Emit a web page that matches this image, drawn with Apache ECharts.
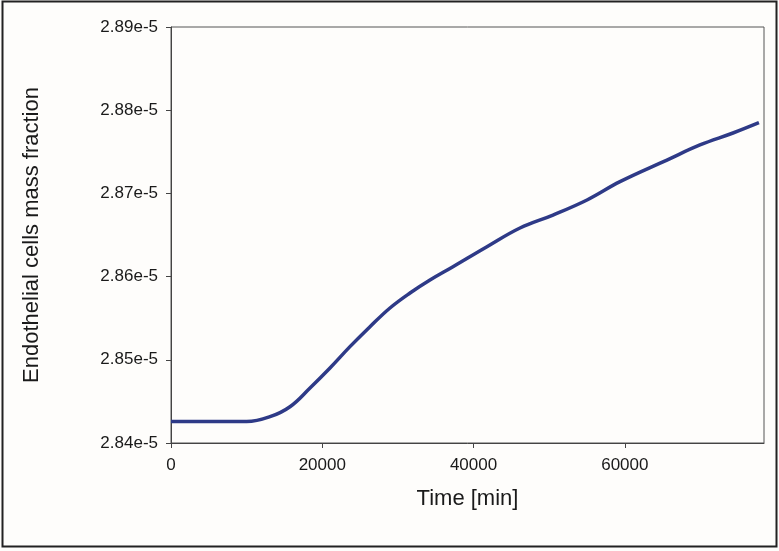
<!DOCTYPE html>
<html>
<head>
<meta charset="utf-8">
<script src="https://cdn.jsdelivr.net/npm/echarts@6/dist/echarts.min.js"></script>
<style>
  html, body { margin: 0; padding: 0; background: #fefdfb; }
  #chart { width: 779px; height: 551px; }
</style>
</head>
<body>
<div id="chart"></div>
<script>
// time [min]
const timeMin = [0, 10000, 13090, 15730, 18380, 21020, 23660, 26310, 28950, 31600,
  34240, 37280, 41770, 46140, 50500, 55000, 59360, 65570, 69930, 74300, 77730]
// endothelial cells mass fraction
const massFraction = [2.84258e-5, 2.84258e-5, 2.84316e-5, 2.84436e-5, 2.84661e-5, 2.84901e-5,
  2.85158e-5, 2.85398e-5, 2.85623e-5, 2.85803e-5, 2.85959e-5, 2.86119e-5, 2.86359e-5,
  2.86584e-5, 2.86740e-5, 2.86921e-5, 2.87141e-5, 2.87401e-5, 2.87582e-5, 2.87726e-5, 2.87850e-5]

const chart = echarts.init(document.getElementById('chart'))

const axisColor = '#444'
const textStyle = { color: '#1a1a1a', fontFamily: 'Liberation Sans, Arial, sans-serif' }

chart.setOption({
  backgroundColor: '#fefdfb',
  animation: false,
  graphic: [
    {
      type: 'rect',
      shape: { x: 2.5, y: 1.5, width: 774, height: 545 },
      style: { fill: 'none', stroke: '#222', lineWidth: 2 }
    }
  ],
  grid: {
    left: 171,
    top: 27,
    right: 15,
    bottom: 108,
    show: true,
    borderColor: '#555',
    borderWidth: 1
  },
  xAxis: {
    type: 'value',
    min: 0,
    max: 78400,
    interval: 20000,
    name: 'Time [min]',
    nameLocation: 'middle',
    nameGap: 45,
    nameTextStyle: { ...textStyle, fontSize: 22 },
    axisLine: { lineStyle: { color: axisColor } },
    axisTick: { show: true, length: 5, lineStyle: { color: axisColor } },
    axisLabel: { ...textStyle, fontSize: 17, margin: 14, showMaxLabel: false, formatter: v => String(v) },
    splitLine: { show: false }
  },
  yAxis: {
    type: 'value',
    min: 2.84e-5,
    max: 2.89e-5,
    interval: 1e-7,
    name: 'Endothelial cells mass fraction',
    nameLocation: 'middle',
    nameGap: 128,
    nameTextStyle: { ...textStyle, fontSize: 22 },
    axisLine: { show: true, lineStyle: { color: axisColor } },
    axisTick: { show: true, length: 5, lineStyle: { color: axisColor } },
    axisLabel: {
      ...textStyle,
      fontSize: 17,
      margin: 13,
      formatter: v => (v * 1e5).toFixed(2) + 'e-5'
    },
    splitLine: { show: false }
  },
  series: [
    {
      type: 'line',
      data: timeMin.map((t, i) => [t, massFraction[i]]),
      smooth: 0.4,
      showSymbol: false,
      lineStyle: { color: '#2e3a87', width: 3.5 }
    }
  ]
})
</script>
</body>
</html>
